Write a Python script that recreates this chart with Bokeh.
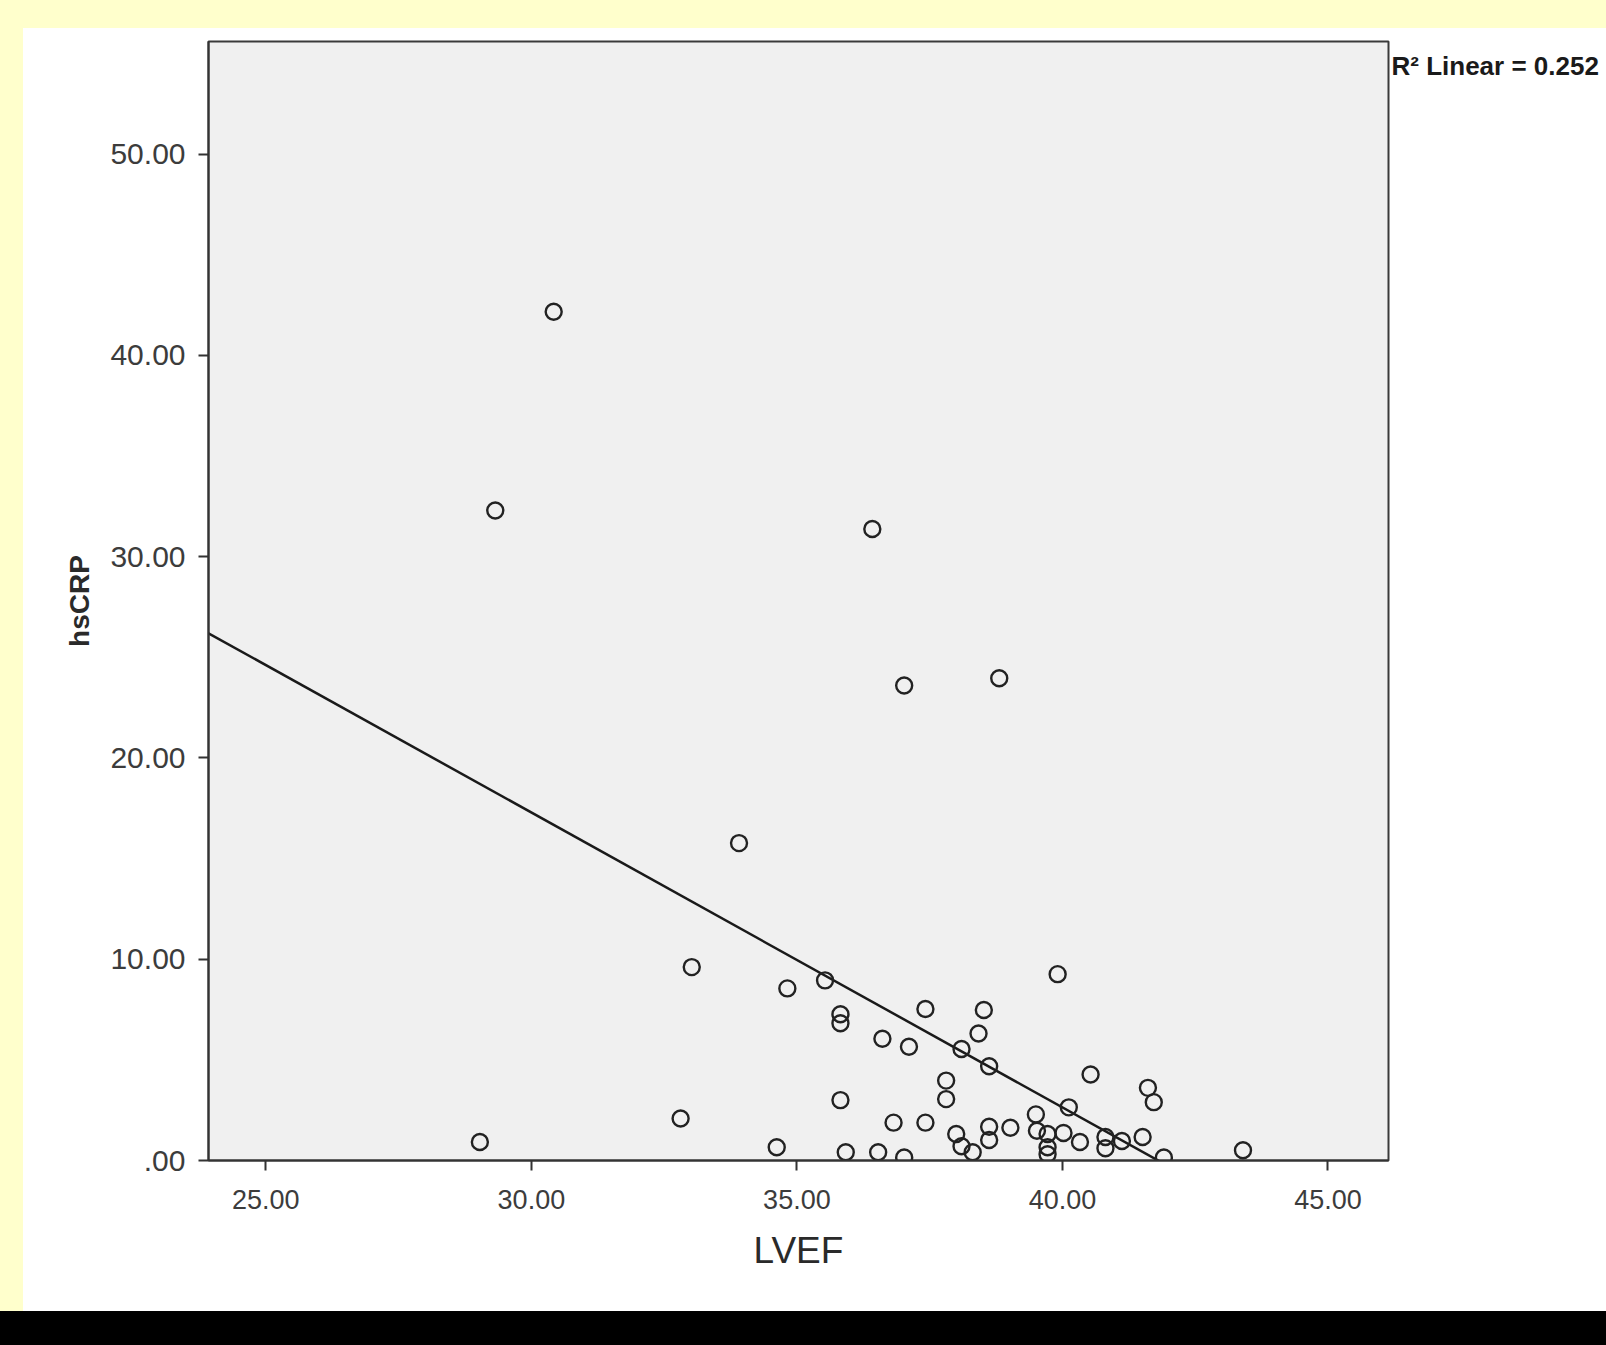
from bokeh.plotting import figure
from bokeh.models import Range1d, FixedTicker, Div
from bokeh.layouts import column, row
from bokeh.core.properties import value
from bokeh.embed import file_html
from bokeh.resources import INLINE

# ---- data ----
lvef = [30.42, 29.32, 36.42, 37.02, 38.81, 33.91, 33.02, 34.82, 35.53, 39.91,
        35.82, 35.82, 37.42, 38.52, 38.42, 36.61, 37.11, 38.10, 38.62, 40.53,
        37.81, 37.81, 35.82, 41.61, 41.72, 40.12, 32.81, 39.50, 36.82, 37.42,
        39.02, 38.62, 38.00, 39.52, 39.72, 40.02, 40.33, 40.81, 41.12, 41.51,
        40.81, 38.62, 38.10, 38.31, 39.72, 39.72, 29.03, 34.62, 35.92, 36.53,
        37.02, 41.91, 43.40]
hscrp = [42.17, 32.30, 31.38, 23.60, 23.96, 15.77, 9.61, 8.55, 8.95, 9.26,
         7.27, 6.82, 7.53, 7.48, 6.31, 6.05, 5.65, 5.54, 4.68, 4.27,
         3.97, 3.05, 3.00, 3.61, 2.90, 2.64, 2.09, 2.29, 1.88, 1.88,
         1.63, 1.68, 1.32, 1.48, 1.32, 1.37, 0.92, 1.17, 0.97, 1.17,
         0.61, 1.02, 0.71, 0.41, 0.66, 0.31, 0.92, 0.66, 0.41, 0.41,
         0.15, 0.15, 0.51]

fit_intercept = 61.24
fit_slope = -1.465
r2_text = "R\u00b2 Linear = 0.252"

x_ticks = [25, 30, 35, 40, 45]
x_tick_labels = ["25.00", "30.00", "35.00", "40.00", "45.00"]
y_ticks = [0, 10, 20, 30, 40, 50]
y_tick_labels = [".00", "10.00", "20.00", "30.00", "40.00", "50.00"]
x_lo, x_hi = 23.92, 46.14
y_lo, y_hi = 0.0, 55.6

PAGE_W, PAGE_H = 1606, 1345
TOP, LEFT, BOTTOM = 28, 23, 34
MID_H = PAGE_H - TOP - BOTTOM
MAIN_W = 1367
SIDE_W = PAGE_W - LEFT - MAIN_W
YELLOW = "#FFFFCC"
FONT = "Liberation Sans"

p = figure(width=MAIN_W, height=MID_H, x_range=Range1d(x_lo, x_hi), y_range=Range1d(y_lo, y_hi),
           output_backend="svg", toolbar_location=None,
           min_border_left=185, min_border_right=2, min_border_top=13, min_border_bottom=151)

p.border_fill_color = "white"
p.background_fill_color = "#F0F0F0"
p.outline_line_color = "#3a3a3a"
p.outline_line_width = 2
p.xgrid.visible = False
p.ygrid.visible = False

for ax, ticks, labels in ((p.xaxis[0], x_ticks, x_tick_labels), (p.yaxis[0], y_ticks, y_tick_labels)):
    ax.ticker = FixedTicker(ticks=ticks)
    ax.major_label_overrides = {t: l for t, l in zip(ticks, labels)}
    ax.minor_tick_line_color = None
    ax.major_tick_in = 0
    ax.major_tick_out = 10
    ax.major_tick_line_width = 2
    ax.major_tick_line_color = "#333333"
    ax.axis_line_color = "#333333"
    ax.axis_line_width = 2
    ax.major_label_text_font = FONT
    ax.major_label_text_color = "#3c3c3c"
    ax.axis_label_text_font = FONT
    ax.axis_label_text_color = "#2a2a2a"

p.xaxis.major_label_text_font_size = "27px"
p.xaxis.axis_label = "LVEF"
p.xaxis.axis_label_text_font_size = "37px"
p.xaxis.axis_label_text_font_style = "normal"
p.xaxis.major_label_standoff = 19
p.xaxis.axis_label_standoff = 18

p.yaxis.major_label_text_font_size = "30px"
p.yaxis.axis_label = "hsCRP"
p.yaxis.axis_label_text_font_size = "28px"
p.yaxis.axis_label_text_font_style = "bold"
p.yaxis.major_label_standoff = 13
p.yaxis.axis_label_standoff = 12

# regression line from coefficients
p.line([x_lo, x_hi], [fit_intercept + fit_slope * x_lo, fit_intercept + fit_slope * x_hi],
       line_color="#1a1a1a", line_width=2.5)

p.scatter(lvef, hscrp, marker="circle", size=16, fill_color=None, line_color="#222222", line_width=2.4)

# side panel holding the R^2 note
side = figure(width=SIDE_W, height=MID_H, x_range=Range1d(0, SIDE_W), y_range=Range1d(0, MID_H),
              output_backend="svg", toolbar_location=None, min_border=0)
side.axis.visible = False
side.grid.visible = False
side.outline_line_color = None
side.background_fill_color = "white"
side.border_fill_color = "white"
side.text(x=[1], y=[MID_H - 28], text=[r2_text], text_font=value(FONT), text_font_size="26px",
          text_font_style="bold", text_color="#1a1a1a", text_baseline="middle", text_align="left")

top_band = Div(width=PAGE_W, height=TOP, styles={"background-color": YELLOW}, margin=0)
left_band = Div(width=LEFT, height=MID_H, styles={"background-color": YELLOW}, margin=0)
bottom_band = Div(width=PAGE_W, height=BOTTOM, styles={"background-color": "black"}, margin=0)

layout = column(top_band, row(left_band, p, side, spacing=0), bottom_band, spacing=0)

open("out.html", "w").write(file_html(layout, INLINE))
